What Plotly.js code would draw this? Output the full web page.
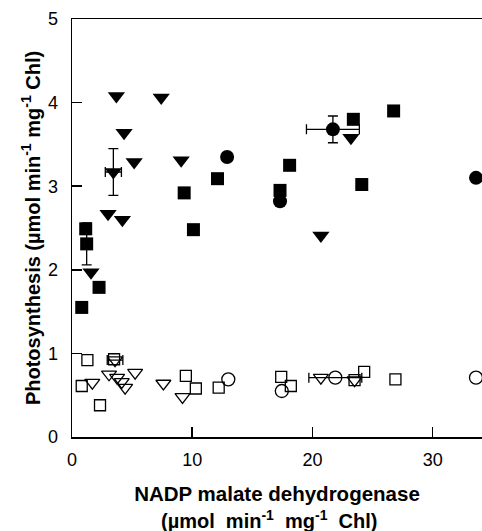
<!DOCTYPE html>
<html>
<head>
<meta charset="utf-8">
<script src="https://cdn.plot.ly/plotly-3.0.1.min.js"></script>
<style>html,body{margin:0;padding:0;background:#fff;}#chart{width:482px;height:531px;}</style>
</head>
<body>
<div id="chart"></div>
<script>
// Filled triangles
var triFilledX = [3.69, 7.42, 4.33, 3.44, 5.17, 9.08, 3.0, 4.19, 1.58, 20.7, 23.2];
var triFilledY = [4.08, 4.06, 3.64, 3.17, 3.29, 3.31, 2.67, 2.60, 1.97, 2.41, 3.58];
var triFilledErrX = [null, null, null, 0.67, null, null, null, null, null, null, null];
var triFilledErrY = [null, null, null, 0.28, null, null, null, null, null, null, null];
// Filled squares
var sqFilledX = [1.14, 1.22, 2.25, 0.81, 9.33, 10.1, 12.1, 18.1, 17.3, 23.4, 26.75, 24.1];
var sqFilledY = [2.49, 2.31, 1.79, 1.55, 2.92, 2.48, 3.09, 3.25, 2.95, 3.80, 3.90, 3.02];
var sqFilledErrY = [null, 0.25, null, null, null, null, null, null, null, null, null, null];
// Filled circles
var cirFilledX = [12.9, 17.3, 21.7, 33.6];
var cirFilledY = [3.35, 2.82, 3.68, 3.10];
var cirFilledErrX = [null, null, 2.2, null];
var cirFilledErrY = [null, null, 0.16, null];
// Open squares
var sqOpenX = [1.28, 0.81, 2.33, 3.5, 9.47, 10.3, 12.2, 17.4, 18.2, 23.5, 24.3, 26.9];
var sqOpenY = [0.92, 0.61, 0.38, 0.93, 0.73, 0.58, 0.59, 0.72, 0.61, 0.68, 0.78, 0.69];
// Open triangles
var triOpenX = [1.69, 3.08, 3.75, 4.14, 4.42, 5.25, 7.6, 9.19, 3.58, 20.7, 23.5];
var triOpenY = [0.65, 0.75, 0.71, 0.66, 0.59, 0.77, 0.64, 0.48, 0.92, 0.71, 0.68];
var triOpenErrX = [null, null, null, null, null, null, null, null, 0.65, null, null];
// Open circles
var cirOpenX = [13.0, 17.45, 21.9, 33.6];
var cirOpenY = [0.69, 0.55, 0.71, 0.71];
var cirOpenErrX = [null, null, 2.2, null];

var xTicks = [0, 10, 20, 30];
var yTicks = [0, 1, 2, 3, 4, 5];

var FONT = 'Liberation Sans, Arial, Helvetica, sans-serif';
function errObj(arr) {
  // points without a measured error get NaN so that no bar or cap is drawn
  return {type: 'data', array: arr.map(function (v) { return v === null ? NaN : v; }),
          visible: true, color: '#000', thickness: 1.3, width: 5};
}
function tr(x, y, symbol, size, ex, ey) {
  var open = symbol.indexOf('open') >= 0;
  var t = {
    type: 'scatter', mode: 'markers', x: x, y: y, showlegend: false,
    marker: {symbol: symbol, size: size, color: '#000', line: {color: '#000', width: open ? 1.3 : 0}},
    cliponaxis: true
  };
  if (ex) t.error_x = errObj(ex);
  if (ey) t.error_y = errObj(ey);
  return t;
}
var data = [
  tr(sqOpenX, sqOpenY, 'square-open', 11),
  tr(triOpenX, triOpenY, 'triangle-down-open', 13, triOpenErrX, null),
  tr(cirOpenX, cirOpenY, 'circle-open', 13, cirOpenErrX, null),
  tr(sqFilledX, sqFilledY, 'square', 13, null, sqFilledErrY),
  tr(triFilledX, triFilledY, 'triangle-down', 15, triFilledErrX, triFilledErrY),
  tr(cirFilledX, cirFilledY, 'circle', 14, cirFilledErrX, cirFilledErrY)
];

var axisCommon = {
  showgrid: false, zeroline: false, showline: true, linecolor: '#000', linewidth: 1.5,
  ticks: 'inside', ticklen: 10, tickwidth: 1.5, tickcolor: '#000',
  tickfont: {family: FONT, size: 18, color: '#000'}
};
var SP = '&nbsp;&nbsp;';
var layout = {
  width: 482, height: 531,
  margin: {l: 72, r: 0, t: 19, b: 94},
  paper_bgcolor: '#fff', plot_bgcolor: '#fff',
  font: {family: FONT, color: '#000'},
  xaxis: Object.assign({}, axisCommon, {
    range: [0, 34.1], tickmode: 'array', tickvals: xTicks, ticktext: xTicks.map(String),
    mirror: true, ticklabelstandoff: 6,
    title: {text: 'NADP malate dehydrogenase', font: {family: FONT, size: 20.5, weight: 'bold', color: '#000'}, standoff: 17}
  }),
  yaxis: Object.assign({}, axisCommon, {
    range: [0, 5], tickmode: 'array', tickvals: yTicks, ticktext: yTicks.map(String),
    ticklabelstandoff: 9,
    title: {text: 'Photosynthesis (µmol min<sup>-1</sup> mg<sup>-1</sup> Chl)', font: {family: FONT, size: 20, weight: 'bold', color: '#000'}, standoff: 2}
  }),
  annotations: [{
    xref: 'paper', yref: 'paper', x: 0.48, y: 0, yshift: -82, xanchor: 'center', yanchor: 'middle',
    text: '(µmol' + SP + 'min<sup>-1</sup>' + SP + 'mg<sup>-1</sup>' + SP + 'Chl)', showarrow: false,
    font: {family: FONT, size: 20, weight: 'bold', color: '#000'}
  }]
};
Plotly.newPlot('chart', data, layout, {displayModeBar: false, staticPlot: true});
</script>
</body>
</html>
